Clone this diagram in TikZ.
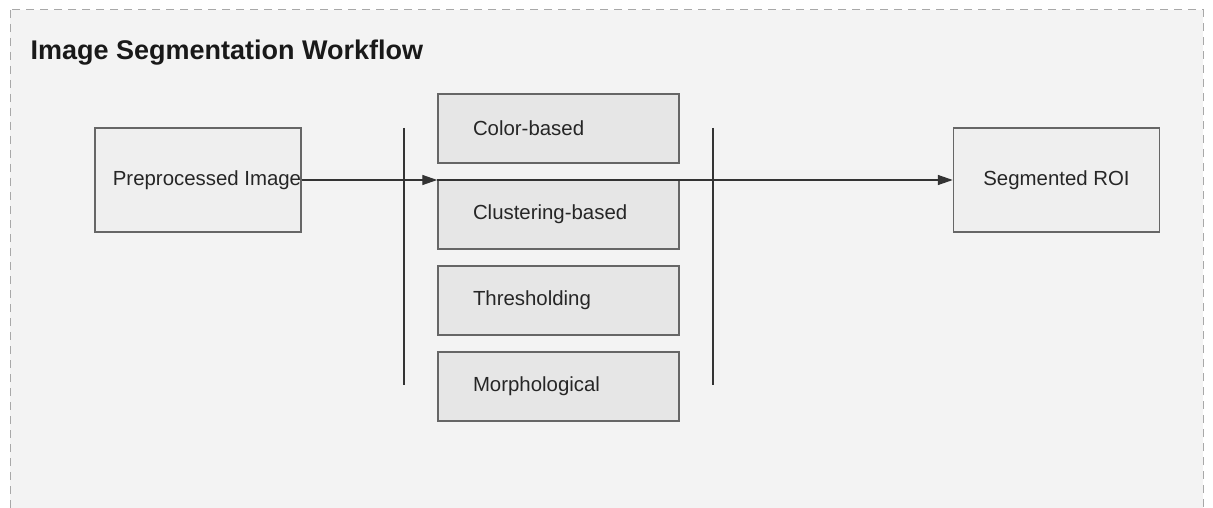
\documentclass[tikz,border=0pt]{standalone}
\usepackage{fontspec}
\setmainfont{Liberation Sans}
\usetikzlibrary{arrows.meta,positioning}
\definecolor{panelfill}{HTML}{F3F3F3}
\definecolor{panelline}{HTML}{A8A8A8}
\definecolor{boxline}{HTML}{666666}
\definecolor{iofill}{HTML}{EFEFEF}
\definecolor{methodfill}{HTML}{E6E6E6}
\definecolor{flowline}{HTML}{333333}
\tikzset{
    basic/.style  = {draw=boxline, line width=1.5pt, rectangle, text=black!85,
                     font=\fontsize{20.4}{24}\selectfont},
    io box/.style = {basic, fill=iofill, minimum width=206pt, minimum height=104pt, inner xsep=0pt},
    method/.style = {basic, fill=methodfill, minimum height=69pt, inner xsep=35pt,
                     text width=171pt, align=left, node distance=15.5pt},
    flow/.style   = {draw=flowline, line width=1.4pt, -{Triangle[length=15pt,width=10pt]}},
    bar/.style    = {draw=flowline, line width=1.3pt}
}
\begin{document}
\begin{tikzpicture}[x=1pt, y=-1pt]
    \useasboundingbox (0,0) rectangle (1213,508);
    % panel
    \fill[white] (0,0) rectangle (1213,508);
    \draw[panelline, fill=panelfill, line width=1pt, dash pattern=on 8pt off 6pt]
        (10,10) rectangle (1203,530);
    \node[anchor=base west, font=\fontsize{27}{32}\selectfont\bfseries, text=black!90] (title) at (27,60)
        {Image Segmentation Workflow};

    % input / output
    \node[io box] (pre) at (198,180) {\hspace*{18pt}Preprocessed Image};
    \node[io box, inner xsep=6pt] (roi) at (1056.5,180) {Segmented ROI};

    % segmentation methods
    \node[method] (color) at (558.5,128.5) {Color-based};
    \node[method, below=of color] (cluster) {Clustering-based};
    \node[method, below=of cluster] (thresh) {Thresholding};
    \node[method, below=of thresh] (morph) {Morphological};

    % fork / join bars
    \coordinate (fork top) at (404,128);
    \coordinate (fork bottom) at (404,385);
    \coordinate (join top) at (713,128);
    \coordinate (join bottom) at (713,385);
    \draw[bar] (fork top) -- (fork bottom);
    \draw[bar] (join top) -- (join bottom);

    % flow
    \coordinate (split) at (pre.east -| cluster.west);
    \draw[flow] (pre.east) -- (split);
    \draw[flow] (split) -- (roi.west);
\end{tikzpicture}
\end{document}
